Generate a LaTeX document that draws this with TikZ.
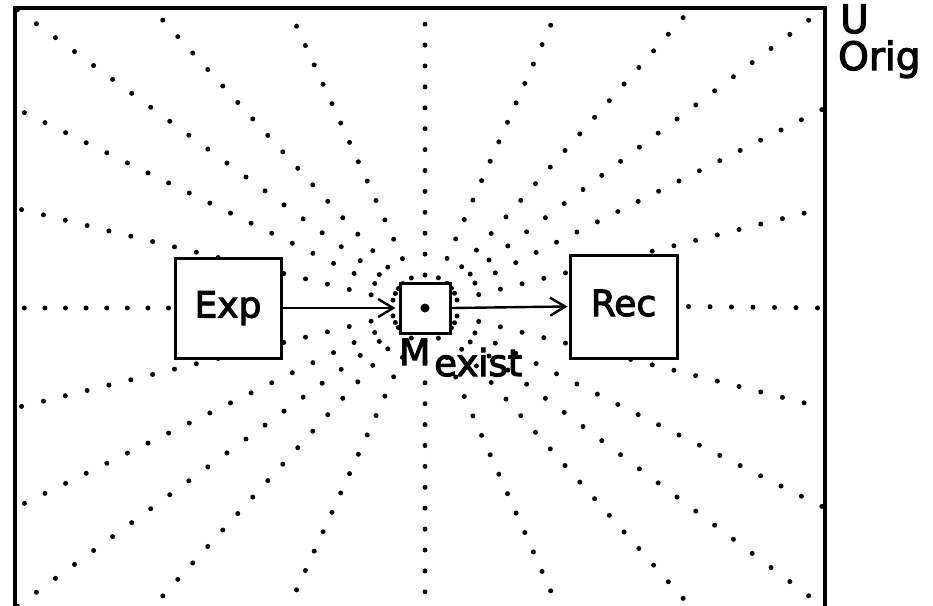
\documentclass[tikz,border=0pt]{standalone}
\usepackage{fontspec}
\setmainfont{DejaVu Sans}[FakeBold=3]
\usetikzlibrary{arrows.meta,calc}
\begin{document}
\begin{tikzpicture}[x=1pt,y=-1pt,
  frame/.style={line width=4.5pt},
  boxstyle/.style={draw,line width=3pt,fill=white,inner sep=0pt,
    text height=26pt,text depth=7pt,font=\fontsize{36}{40}\selectfont},
  dotray/.style={line width=5pt,line cap=round,dash pattern=on 0pt off #1},
  conn/.style={line width=2.4pt,-{Straight Barb[length=15pt,width=18pt,line width=2.4pt]}},
  lbl/.style={inner sep=0pt,anchor=base west,font=\fontsize{39}{42}\selectfont}
]
\clip (0,0) rectangle (933,605);
\fill[white] (0,0) rectangle (933,605);
\coordinate (C) at (425,308);
% radial dotted rays
\foreach \ex/\ey in {15/8, 151.7/8, 288.3/8, 425/8, 558.3/8, 691.7/8,
                     825/8, 825/108, 825/208, 825/408, 825/508,
                     825/608, 691.7/608, 558.3/608, 425/608, 288.3/608, 151.7/608,
                     15/608, 15/508, 15/408, 15/208, 15/108} {
  \pgfmathsetmacro\dd{veclen(\ex-425,\ey-308)}
  \pgfmathsetmacro\sp{17+0.013*\dd}
  \draw[dotray=\sp pt] ($(C)!33pt!(\ex,\ey)$) -- (\ex,\ey);
}
% frame (bottom edge lies below the visible area)
\draw[frame] (15,608) rectangle (825,8);
% boxes
\node[boxstyle,minimum width=106pt,minimum height=100pt] (exp) at (228,308) {Exp};
\node[boxstyle,minimum width=107pt,minimum height=103pt] (rec) at (623.5,306.5) {Rec};
\node[draw,line width=3pt,fill=white,minimum size=50pt,inner sep=0pt] (m) at (425,308) {};
\fill (m.center) circle (4.5pt);
% horizontal rays outside the boxes
\coordinate (lend) at (15,308);
\coordinate (rend) at (825,308);
\draw[dotray=20.6pt] ([xshift=-5pt]exp.west) -- (lend);
\draw[dotray=21.5pt] ([xshift=10pt]rec.east) -- (rend);
% connectors
\draw[conn] (exp.east) -- ([xshift=-3pt]m.west);
\draw[conn] (m.east) -- ([xshift=-1pt]rec.west);
% labels
\node[lbl,font=\fontsize{36}{40}\selectfont] (mlbl) at (399,365) {M};
\node[lbl,font=\fontsize{37}{40}\selectfont] (exlbl) at (434,376) {exist};
\node[lbl] (u) at (840,33) {U};
\node[lbl] (orig) at (838,70) {Orig};
\end{tikzpicture}
\end{document}
